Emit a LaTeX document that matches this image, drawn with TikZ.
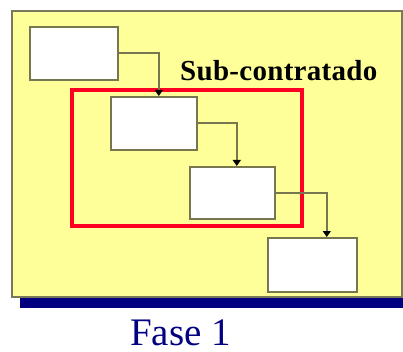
\documentclass[tikz,border=0pt]{standalone}
\usepackage{fontspec}
\setmainfont{Liberation Serif}
\usetikzlibrary{arrows.meta}
\definecolor{panelyellow}{HTML}{FFFF99}
\definecolor{olive}{HTML}{77774F}
\definecolor{navybar}{HTML}{000080}
\definecolor{redframe}{HTML}{FF0022}
\tikzset{
  box/.style={draw=olive, fill=white, line width=1.6pt, inner sep=0pt, anchor=north west},
  conn/.style={draw=olive, line width=1.6pt, -{Triangle[length=6pt,width=8pt,fill=black,color=black]}},
}
\begin{document}
\begin{tikzpicture}[x=1pt,y=-1pt]
\useasboundingbox (0,0) rectangle (403,352);
\fill[white] (0,0) rectangle (403,352);
% navy shadow bar
\fill[navybar] (20,296) rectangle (403,308);
% panel
\filldraw[fill=panelyellow, draw=olive!80!gray, line width=2pt] (12,11) rectangle (402,297);
% red frame
\draw[redframe, line width=4.5pt] (72,90) rectangle (302,226);
% boxes
\node[box, minimum width=88pt, minimum height=53pt] (b1) at (29,26) {};
\node[box, minimum width=86pt, minimum height=53pt] (b2) at (110,96) {};
\node[box, minimum width=85pt, minimum height=52pt] (b3) at (189,166) {};
\node[box, minimum width=89pt, minimum height=54pt] (b4) at (267,237) {};
% connectors
\draw[conn] (b1.east) -| ([xshift=5pt]b2.north);
\draw[conn] (b2.east) -| ([xshift=4.5pt]b3.north);
\draw[conn] (b3.east) -| ([xshift=14.5pt]b4.north);
% labels
\node[anchor=base west, inner sep=0pt, font=\fontsize{29}{31}\selectfont\bfseries] (sub) at (180,81) {\addfontfeatures{LetterSpace=1}Sub-contratado};
\node[anchor=base west, inner sep=0pt, text=navybar, font=\fontsize{39}{41}\selectfont] (fase) at (130,345) {Fase 1};
\end{tikzpicture}
\end{document}
